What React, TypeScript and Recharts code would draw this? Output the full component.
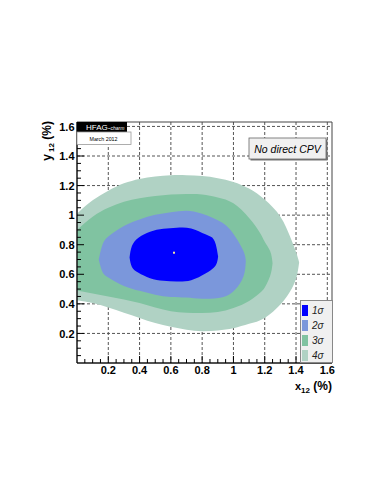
import React from 'react';
import { ComposedChart, Area, Scatter, XAxis, YAxis, CartesianGrid, ReferenceArea, Legend } from 'recharts';

// contour bands: [x12, y12 low, y12 high] in %
const sig4: [number, number, number][] = [
  [0, 0.425, 1.01], [0.1, 0.405, 1.1], [0.2, 0.375, 1.165], [0.3, 0.34, 1.215], [0.4, 0.305, 1.245],
  [0.5, 0.27, 1.262], [0.6, 0.245, 1.27], [0.7, 0.225, 1.27], [0.8, 0.215, 1.264], [0.9, 0.22, 1.25],
  [1.0, 0.235, 1.225], [1.1, 0.265, 1.18], [1.2, 0.305, 1.105], [1.3, 0.395, 0.99], [1.36, 0.48, 0.86],
  [1.4, 0.57, 0.75], [1.42, 0.68, 0.68],
];
const sig3: [number, number, number][] = [
  [0, 0.49, 0.9], [0.1, 0.47, 0.99], [0.2, 0.45, 1.05], [0.3, 0.43, 1.09], [0.4, 0.405, 1.115],
  [0.5, 0.375, 1.13], [0.6, 0.35, 1.14], [0.7, 0.34, 1.143], [0.8, 0.338, 1.14], [0.9, 0.345, 1.12],
  [1.0, 0.372, 1.08], [1.1, 0.42, 0.98], [1.17, 0.475, 0.88], [1.2, 0.51, 0.82], [1.235, 0.59, 0.755],
  [1.25, 0.675, 0.675],
];
const sig2: [number, number, number][] = [
  [0.139, 0.7, 0.7], [0.16, 0.623, 0.791], [0.2, 0.578, 0.855], [0.3, 0.521, 0.926], [0.4, 0.488, 0.971],
  [0.5, 0.462, 1.002], [0.6, 0.447, 1.02], [0.7, 0.443, 1.03], [0.8, 0.435, 1.01], [0.93, 0.445, 0.948],
  [1.01, 0.495, 0.858], [1.064, 0.585, 0.757], [1.079, 0.69, 0.69],
];
const sig1: [number, number, number][] = [
  [0.336, 0.713, 0.713], [0.351, 0.65, 0.791], [0.393, 0.61, 0.847], [0.467, 0.574, 0.888],
  [0.552, 0.556, 0.908], [0.637, 0.551, 0.915], [0.73, 0.56, 0.91], [0.821, 0.605, 0.87],
  [0.874, 0.645, 0.836], [0.895, 0.68, 0.765], [0.902, 0.72, 0.72],
];
const centerPoint = [{ x: 0.62, y: 0.746 }];

const majorTicks = [0.2, 0.4, 0.6, 0.8, 1, 1.2, 1.4, 1.6];
const axisTicks = [
  0.05, 0.1, 0.15, 0.2, 0.25, 0.3, 0.35, 0.4, 0.45, 0.5, 0.55, 0.6, 0.65, 0.7, 0.75, 0.8,
  0.85, 0.9, 0.95, 1, 1.05, 1.1, 1.15, 1.2, 1.25, 1.3, 1.35, 1.4, 1.45, 1.5, 1.55, 1.6,
];

const bands = [
  { name: '4σ', rows: sig4, color: '#b0d2c4' },
  { name: '3σ', rows: sig3, color: '#80c3a1' },
  { name: '2σ', rows: sig2, color: '#7b97db' },
  { name: '1σ', rows: sig1, color: '#0000ff' },
];
const legendOrder = ['1σ', '2σ', '3σ', '4σ'];

const FONT = 'Liberation Sans, Arial, Helvetica, sans-serif';

const toRange = (rows: [number, number, number][]) => rows.map(([x, lo, hi]) => ({ x, range: [lo, hi] }));

const XTick = (props: any) => {
  const { x, y, payload } = props;
  const major = majorTicks.includes(payload.value);
  return (
    <g>
      <line x1={x} x2={x} y1={y} y2={y - (major ? 7 : 4)} stroke="#000" />
      {major && (
        <text x={x} y={y + 10.5} textAnchor="middle" fontSize={11} fontWeight="bold" fontFamily={FONT} fill="#000">
          {String(payload.value)}
        </text>
      )}
    </g>
  );
};

const YTick = (props: any) => {
  const { x, y, payload } = props;
  const major = majorTicks.includes(payload.value);
  return (
    <g>
      <line x1={x} x2={x + (major ? 7 : 4)} y1={y} y2={y} stroke="#000" />
      {major && (
        <text x={x - 2.5} y={y + 4.2} textAnchor="end" fontSize={11} fontWeight="bold" fontFamily={FONT} fill="#000">
          {String(payload.value)}
        </text>
      )}
    </g>
  );
};

const SigmaLegend = (props: any) => {
  const items = (props.payload || [])
    .filter((p: any) => legendOrder.includes(p.value))
    .sort((a: any, b: any) => legendOrder.indexOf(a.value) - legendOrder.indexOf(b.value));
  return (
    <div style={{ width: 33, height: 63, background: '#f0f0f0', border: '1px solid #888', boxSizing: 'border-box', paddingTop: 2 }}>
      {items.map((it: any) => {
        const band = bands.find((b) => b.name === it.value);
        return (
          <div key={it.value} style={{ display: 'flex', alignItems: 'center', height: 15, paddingLeft: 1.5 }}>
            <div style={{ width: 6, height: 11, background: band ? band.color : it.color }} />
            <span style={{ marginLeft: 4, fontFamily: FONT, fontStyle: 'italic', fontSize: 10, color: '#222' }}>{it.value}</span>
          </div>
        );
      })}
    </div>
  );
};

export default function App() {
  return (
    <div style={{ position: 'absolute', left: 0, top: 0, width: 383, height: 495, background: '#fff' }}>
      <ComposedChart width={383} height={495} margin={{ top: 122, right: 51, bottom: 102, left: 37 }}>
        {bands.map((b) => (
          <Area
            key={b.name}
            name={b.name}
            data={toRange(b.rows)}
            dataKey="range"
            type="natural"
            stroke="none"
            fill={b.color}
            fillOpacity={1}
            isAnimationActive={false}
            legendType="rect"
          />
        ))}
        <Scatter
          name="center"
          data={centerPoint}
          dataKey="y"
          isAnimationActive={false}
          legendType="none"
          shape={(p: any) => <rect x={p.cx - 1} y={p.cy - 1} width={2} height={2} fill="#f3e3a0" />}
        />
        <CartesianGrid
          verticalValues={majorTicks}
          horizontalValues={majorTicks}
          stroke="#555"
          strokeDasharray="3 2"
          fill="none"
        />
        <ReferenceArea x1={0} x2={1.63} y1={0} y2={1.63} fill="none" stroke="#444" strokeWidth={1} />
        <XAxis
          dataKey="x"
          type="number"
          domain={[0, 1.63]}
          ticks={axisTicks}
          interval={0}
          height={30}
          tickSize={0}
          tickMargin={0}
          tickLine={false}
          tick={<XTick />}
          axisLine={{ stroke: '#000' }}
          allowDataOverflow
        />
        <YAxis
          type="number"
          domain={[0, 1.63]}
          ticks={axisTicks}
          interval={0}
          width={40}
          tickSize={0}
          tickMargin={0}
          tickLine={false}
          tick={<YTick />}
          axisLine={{ stroke: '#000' }}
          allowDataOverflow
        />
        <Legend
          layout="vertical"
          align="center"
          verticalAlign="middle"
          content={<SigmaLegend />}
          wrapperStyle={{ left: 299.5, top: 300, width: 33, height: 63 }}
        />
      </ComposedChart>
      <svg width={383} height={495} style={{ position: 'absolute', left: 0, top: 0, pointerEvents: 'none' }}>
        <rect x={77} y={122} width={50} height={10} fill="#000" />
        <text x={86} y={130} fontFamily={FONT} fontSize={8} fill="#fff">
          HFAG-<tspan fontSize={5} fontStyle="italic">charm</tspan>
        </text>
        <rect x={77} y={132} width={54} height={12.5} fill="#fff" stroke="#999" strokeWidth={0.8} />
        <text x={103.5} y={141} textAnchor="middle" fontFamily={FONT} fontSize={5.3} fill="#000">
          March 2012
        </text>

        <rect x={250.5} y={139.5} width={77} height={21} fill="#777" />
        <rect x={249} y={138} width={77} height={21} fill="#f0f0f0" stroke="#666" strokeWidth={0.8} />
        <text x={287.5} y={153} textAnchor="middle" fontFamily={FONT} fontSize={10.5} fontStyle="italic" fill="#000">
          No direct CPV
        </text>

        <text x={332} y={390} textAnchor="end" fontFamily={FONT} fontWeight="bold" fill="#000">
          <tspan fontSize={11}>x</tspan>
          <tspan fontSize={8} dy={3}>12</tspan>
          <tspan fontSize={12} dy={-3}> (%)</tspan>
        </text>
        <text transform="translate(51,121) rotate(-90)" textAnchor="end" fontFamily={FONT} fontWeight="bold" fill="#000">
          <tspan fontSize={12}>y</tspan>
          <tspan fontSize={8} dy={3}> 12</tspan>
          <tspan fontSize={12} dy={-3}> (%)</tspan>
        </text>
      </svg>
    </div>
  );
}
